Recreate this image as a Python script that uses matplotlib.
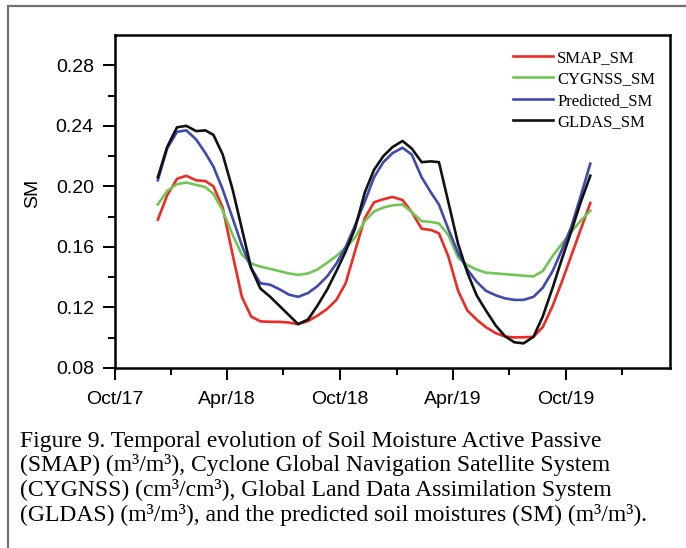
import numpy as np
import pandas as pd
import matplotlib
matplotlib.use("Agg")
import matplotlib.pyplot as plt
import matplotlib.dates as mdates
from matplotlib.patches import Rectangle

# semi-monthly sample dates
dates = pd.to_datetime([
    "2017-12-10", "2017-12-25", "2018-01-10", "2018-01-25", "2018-02-10", "2018-02-25",
    "2018-03-10", "2018-03-25", "2018-04-10", "2018-04-25", "2018-05-10", "2018-05-25",
    "2018-06-10", "2018-06-25", "2018-07-10", "2018-07-25", "2018-08-10", "2018-08-25",
    "2018-09-10", "2018-09-25", "2018-10-10", "2018-10-25", "2018-11-10", "2018-11-25",
    "2018-12-10", "2018-12-25", "2019-01-10", "2019-01-25", "2019-02-10", "2019-02-25",
    "2019-03-10", "2019-03-25", "2019-04-10", "2019-04-25", "2019-05-10", "2019-05-25",
    "2019-06-10", "2019-06-25", "2019-07-10", "2019-07-25", "2019-08-10", "2019-08-25",
    "2019-09-10", "2019-09-25", "2019-10-10", "2019-10-25", "2019-11-10",
])

smap = [0.178, 0.194, 0.205, 0.207, 0.204, 0.2035, 0.200, 0.186, 0.155, 0.127, 0.114, 0.1108,
        0.1105, 0.1105, 0.110, 0.109, 0.111, 0.1145, 0.119, 0.125, 0.136, 0.157, 0.179, 0.1895,
        0.1915, 0.193, 0.191, 0.183, 0.172, 0.1712, 0.169, 0.154, 0.131, 0.118, 0.112, 0.107,
        0.103, 0.1008, 0.1002, 0.1003, 0.1006, 0.107, 0.121, 0.137, 0.154, 0.171, 0.189]

cygnss = [0.188, 0.197, 0.2015, 0.2025, 0.201, 0.1995, 0.195, 0.184, 0.168, 0.155, 0.149, 0.147,
          0.1455, 0.144, 0.1425, 0.1415, 0.1425, 0.145, 0.1495, 0.154, 0.1595, 0.166, 0.177, 0.1835,
          0.186, 0.1875, 0.188, 0.183, 0.177, 0.1765, 0.1755, 0.168, 0.153, 0.148, 0.145, 0.143,
          0.1425, 0.142, 0.1415, 0.141, 0.1405, 0.144, 0.154, 0.162, 0.170, 0.177, 0.184]

predicted = [0.204, 0.225, 0.236, 0.237, 0.231, 0.222, 0.213, 0.198, 0.179, 0.161, 0.146, 0.136,
             0.135, 0.132, 0.1285, 0.127, 0.1295, 0.134, 0.1405, 0.149, 0.160, 0.174, 0.190, 0.206,
             0.216, 0.222, 0.2255, 0.221, 0.206, 0.196, 0.188, 0.172, 0.156, 0.145, 0.137, 0.131,
             0.128, 0.126, 0.125, 0.125, 0.127, 0.133, 0.144, 0.158, 0.173, 0.193, 0.215]

gldas = [0.206, 0.226, 0.239, 0.240, 0.2365, 0.237, 0.234, 0.221, 0.198, 0.172, 0.146, 0.1325,
         0.127, 0.121, 0.115, 0.109, 0.112, 0.121, 0.1318, 0.144, 0.157, 0.172, 0.196, 0.211,
         0.220, 0.226, 0.230, 0.225, 0.216, 0.2165, 0.216, 0.19, 0.162, 0.143, 0.128, 0.118,
         0.108, 0.101, 0.097, 0.0963, 0.1006, 0.114, 0.133, 0.152, 0.170, 0.189, 0.207]

caption = [
    "Figure 9. Temporal evolution of Soil Moisture Active Passive",
    "(SMAP) (m\u00b3/m\u00b3), Cyclone Global Navigation Satellite System",
    "(CYGNSS) (cm\u00b3/cm\u00b3), Global Land Data Assimilation System",
    "(GLDAS) (m\u00b3/m\u00b3), and the predicted soil moistures (SM) (m\u00b3/m\u00b3).",
]

W, H = 686, 548
fig = plt.figure(figsize=(W / 100, H / 100), dpi=100)

# outer gray frame (right and bottom edges fall outside the picture)
fig.patches.append(Rectangle((8 / W, -10 / H), 690 / W, 552 / H, transform=fig.transFigure,
                             fill=False, edgecolor="#707070", linewidth=1.6))

ax = fig.add_axes([114.6 / W, 1 - 368 / H, (670 - 114.6) / W, (368 - 35) / H])

ax.plot(dates, smap, color="#ee2a24", lw=1.9, label="SMAP_SM")
ax.plot(dates, cygnss, color="#72c655", lw=1.9, label="CYGNSS_SM")
ax.plot(dates, predicted, color="#4049ae", lw=1.9, label="Predicted_SM")
ax.plot(dates, gldas, color="#111111", lw=1.9, label="GLDAS_SM")

ax.set_ylim(0.08, 0.30)
ax.set_yticks(np.arange(0.08, 0.281, 0.04))
ax.set_yticks(np.arange(0.10, 0.30, 0.04), minor=True)
ax.yaxis.set_major_formatter(plt.FormatStrFormatter("%.2f"))

ax.set_xlim(pd.Timestamp("2017-10-01"), pd.Timestamp("2020-03-18"))
ax.xaxis.set_major_locator(mdates.MonthLocator(bymonth=[4, 10]))
ax.xaxis.set_minor_locator(mdates.MonthLocator(bymonth=[1, 7]))
ax.xaxis.set_major_formatter(mdates.DateFormatter("%b/%y"))

for s in ax.spines.values():
    s.set_linewidth(1.8)
ax.tick_params(which="major", length=8.5, width=1.4, labelsize=14)
ax.tick_params(axis="y", which="major", pad=6.5)
ax.tick_params(axis="x", which="major", pad=8)
ax.tick_params(which="minor", length=5, width=1.4)
for lab in ax.get_xticklabels() + ax.get_yticklabels():
    lab.set_fontfamily("Liberation Sans")

ax.set_ylabel("SM", fontsize=14, fontfamily="Liberation Sans")
ax.yaxis.set_label_coords(-0.1325, 0.525)

ax.legend(loc="upper left", bbox_to_anchor=((513 - 114.6) / (670 - 114.6), 1 - 15 / 333),
          frameon=False, prop={"family": "Liberation Serif", "size": 12},
          handlelength=2.4, handletextpad=0.25, labelspacing=0.32, borderpad=0,
          borderaxespad=0)

for i, line in enumerate(caption):
    fig.text(20 / W, 1 - (441 + 24.5 * i) / H, line, fontsize=17.0,
             fontfamily="Liberation Serif", va="center", ha="left")

fig.savefig("out.png", dpi=100)
